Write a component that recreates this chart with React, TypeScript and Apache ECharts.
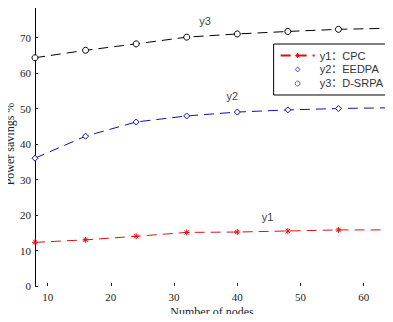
import React, { useEffect, useRef } from "react";
import * as echarts from "echarts";

// Number of nodes on the x axis
const nodes = [8, 16, 24, 32, 40, 48, 56, 64];
// Power savings (%) per scheme
const y1CPC = [12.3, 13.0, 14.0, 15.1, 15.2, 15.5, 15.8, 15.8];
const y2EEDPA = [36.0, 42.2, 46.2, 47.9, 49.0, 49.6, 50.0, 50.2];
const y3DSRPA = [64.3, 66.4, 68.2, 70.1, 71.0, 71.7, 72.3, 72.6];
const xTicks = [10, 20, 30, 40, 50, 60];
const seriesNames = ["y1：CPC", "y2：EEDPA", "y3：D-SRPA"];
const curveTags = ["y1", "y2", "y3"];

const serif = "'Liberation Serif', 'Times New Roman', serif";
const sans = "'Liberation Sans', Arial, 'Noto Sans CJK SC', sans-serif";

const asterisk =
  "path://M0,-5L0,5M-5,0L5,0M-3.6,-3.6L3.6,3.6M-3.6,3.6L3.6,-3.6";

function pairs(vals: number[]) {
  return nodes.map((n, i) => [n, vals[i]]);
}

export default function App() {
  const ref = useRef<HTMLDivElement>(null);
  useEffect(() => {
    if (!ref.current) return;
    const chart = echarts.init(ref.current, undefined, { renderer: "svg" });
    const colors = ["#e01010", "#1010b0", "#000000"];
    const symbols = [asterisk, "diamond", "circle"];
    const values = [y1CPC, y2EEDPA, y3DSRPA];
    const tagPos = [
      [44.8, 19.3],
      [39.2, 53.6],
      [34.9, 74.6],
    ];
    chart.setOption({
      animation: false,
      backgroundColor: "#ffffff",
      grid: {
        left: 35,
        right: 4,
        top: 2,
        bottom: 36,
        containLabel: false,
        outerBoundsMode: "none",
      },
      legend: {
        orient: "vertical",
        right: 4,
        top: 44,
        width: 115,
        backgroundColor: "#ffffff",
        borderColor: "#000",
        borderWidth: 1,
        borderRadius: 0,
        padding: [6, 6, 6, 6],
        itemGap: 3,
        itemWidth: 34,
        itemHeight: 6,
        textStyle: { fontFamily: sans, fontSize: 11, color: "#333" },
        data: [
          {
            name: seriesNames[0],
            itemStyle: { color: "transparent", borderColor: colors[0], borderWidth: 1 },
          },
          {
            name: seriesNames[1],
            lineStyle: { opacity: 0 },
            itemStyle: { color: "#fff", borderColor: "#4040d0", borderWidth: 1 },
          },
          {
            name: seriesNames[2],
            lineStyle: { opacity: 0 },
            itemStyle: { color: "#fff", borderColor: "#666", borderWidth: 1 },
          },
        ],
      },
      xAxis: {
        type: "value",
        min: 8,
        max: 64,
        name: "Number of nodes",
        nameLocation: "middle",
        nameGap: 20,
        nameMoveOverlap: false,
        nameTextStyle: { fontFamily: serif, fontSize: 12, color: "#222" },
        axisLine: { show: false },
        splitLine: { show: false },
        axisTick: {
          show: true,
          inside: true,
          length: 3,
          customValues: xTicks,
          lineStyle: { color: "#222" },
        },
        axisLabel: {
          customValues: xTicks,
          fontFamily: serif,
          fontSize: 11,
          color: "#222",
          margin: 5,
        },
      },
      yAxis: {
        type: "value",
        min: 0,
        max: 80,
        interval: 10,
        name: "Power savings %",
        nameLocation: "middle",
        nameGap: 19,
        nameMoveOverlap: false,
        nameTextStyle: { fontFamily: serif, fontSize: 12, color: "#222" },
        axisLine: { show: true, lineStyle: { color: "#000", width: 1 } },
        splitLine: { show: false },
        axisTick: { show: true, inside: true, length: 3, lineStyle: { color: "#222" } },
        axisLabel: { fontFamily: serif, fontSize: 11, color: "#222", margin: 4 },
      },
      series: values.map((v, i) => ({
        type: "line",
        name: seriesNames[i],
        data: pairs(v),
        symbol: symbols[i],
        symbolSize: 6,
        showSymbol: true,
        showAllSymbol: true,
        lineStyle: { color: colors[i], width: 1, type: [10, 6] },
        itemStyle: {
          color: i === 0 ? "transparent" : "#fff",
          borderColor: colors[i],
          borderWidth: 1,
        },
        markPoint: {
          symbol: "circle",
          symbolSize: 1,
          itemStyle: { color: "transparent", borderWidth: 0 },
          data: [
            {
              coord: tagPos[i],
              label: {
                show: true,
                position: "inside",
                formatter: curveTags[i],
                fontFamily: sans,
                fontSize: 11,
                color: "#444",
              },
            },
          ],
        },
      })),
    });
    return () => chart.dispose();
  }, []);
  return <div ref={ref} style={{ width: 393, height: 322, margin: -8 }} />;
}
